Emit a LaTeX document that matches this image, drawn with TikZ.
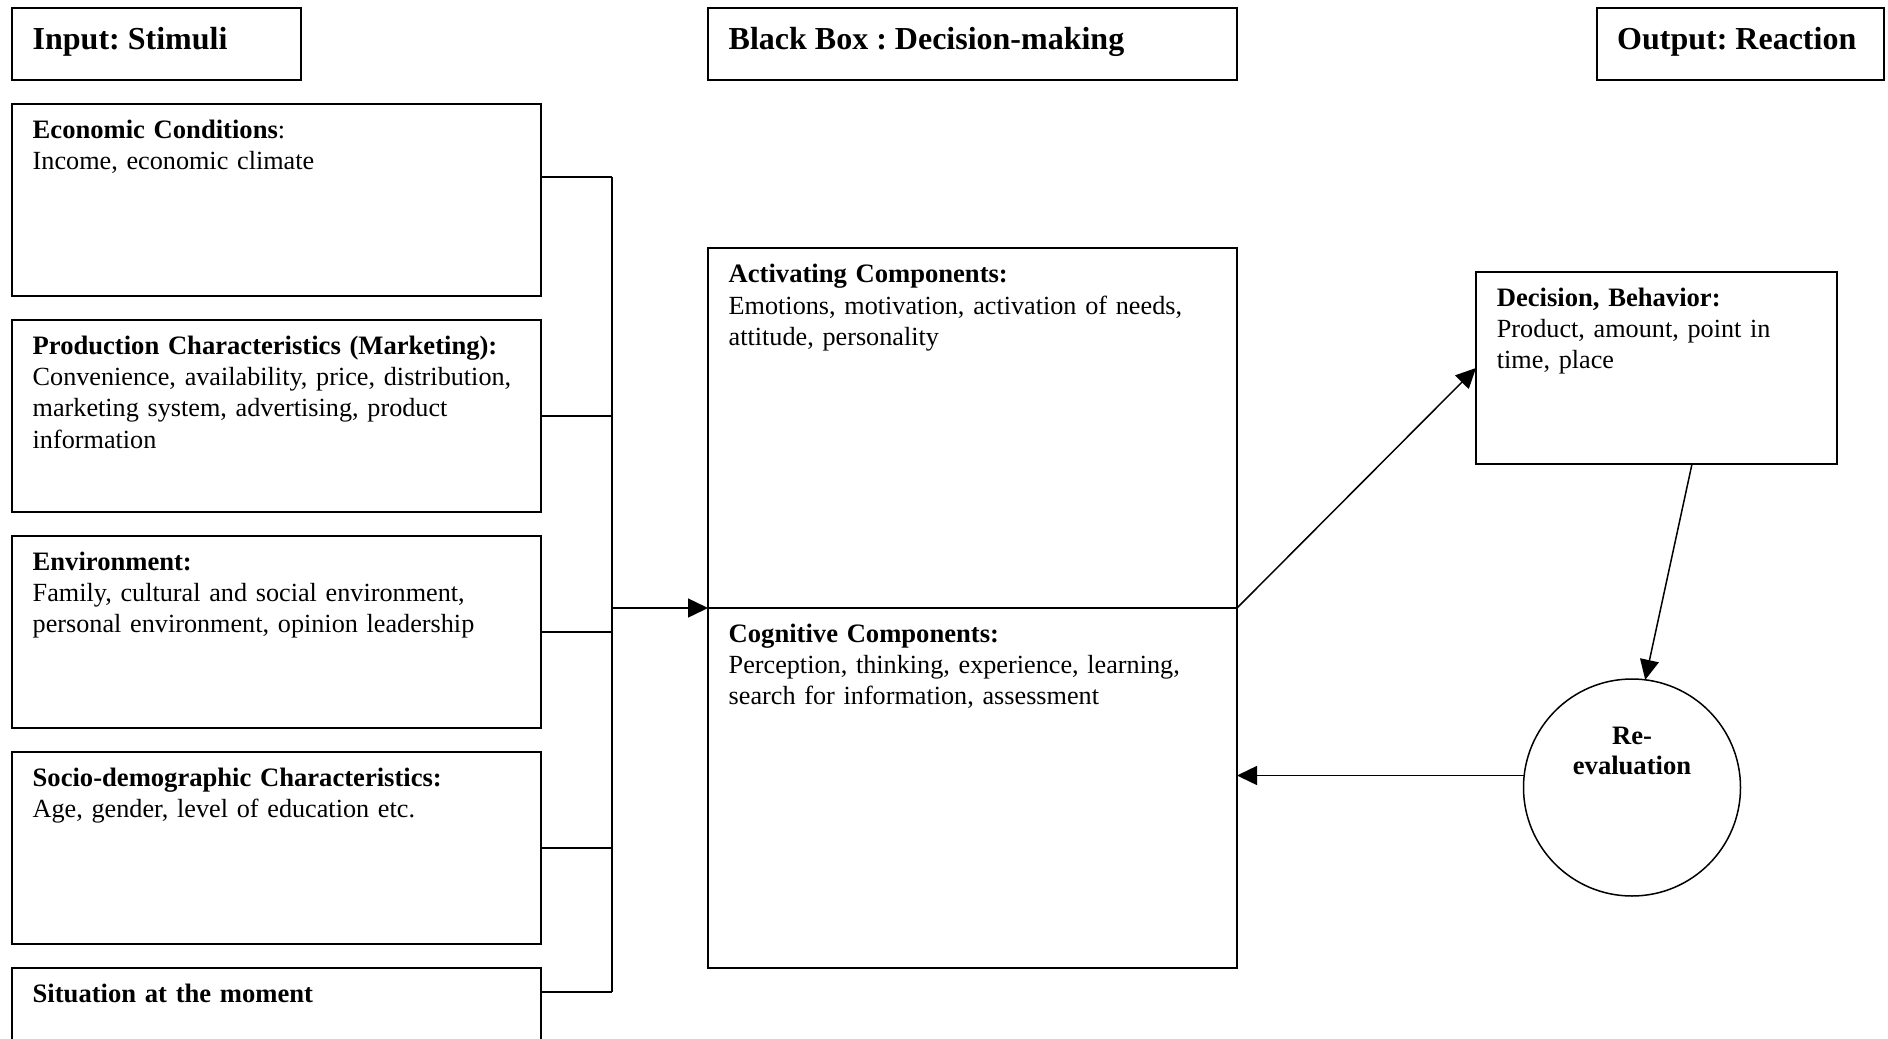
\documentclass[tikz,border=0pt]{standalone}
\usepackage{fontspec}
\setmainfont{Liberation Serif}
\usetikzlibrary{arrows.meta}
\newcommand\firstlinestrut{\rule{0pt}{24pt}}
\newcommand\boxtitle[1]{{\bfseries\fontsize{26.6}{31.3}\selectfont #1}}
\frenchspacing
\begin{document}
\begin{tikzpicture}[x=1pt,y=-1pt,
  box/.style={draw, line width=1.5pt, rectangle, inner sep=0pt, outer sep=0pt, anchor=north west},
  body/.style={anchor=north west, inner sep=0pt, text width=#1, align=left,
    font=\fontsize{26.2}{31.3}\selectfont},
  head/.style={anchor=base west, inner sep=0pt, font=\bfseries\fontsize{32}{36}\selectfont},
  wire/.style={line width=1.5pt},
  arr/.style={line width=1.5pt, -{Triangle[length=20pt,width=19pt]}},
]
\path[use as bounding box] (0,0) rectangle (1888,1039);
\clip (0,0) rectangle (1888,1039);

% headers
\node[box, minimum width=289pt, minimum height=72pt] (inp) at (12,8) {};
\node[head] (inpT) at (32.5,49.5) {Input: Stimuli};
\node[box, minimum width=529pt, minimum height=72pt] (bbh) at (708,8) {};
\node[head] (bbhT) at (728.5,49.5) {Black Box : Decision-making};
\node[box, minimum width=287pt, minimum height=72pt] (outh) at (1597,8) {};
\node[head] (outhT) at (1617,49.5) {Output: Reaction};

% left stimuli boxes
\node[box, minimum width=529pt, minimum height=192pt] (econ) at (12,104) {};
\node[body=505pt] (econT) at (32.5,114) {\firstlinestrut\boxtitle{Economic Conditions}:\\Income, economic climate};
\node[box, minimum width=529pt, minimum height=192pt] (prod) at (12,320) {};
\node[body=505pt] (prodT) at (32.5,330) {\firstlinestrut\boxtitle{Production Characteristics (Marketing):}\\Convenience, availability, price, distribution,\\marketing system, advertising, product\\information};
\node[box, minimum width=529pt, minimum height=192pt] (env) at (12,536) {};
\node[body=505pt] (envT) at (32.5,546) {\firstlinestrut\boxtitle{Environment:}\\Family, cultural and social environment,\\personal environment, opinion leadership};
\node[box, minimum width=529pt, minimum height=192pt] (socio) at (12,752) {};
\node[body=505pt] (socioT) at (32.5,762) {\firstlinestrut\boxtitle{Socio-demographic Characteristics:}\\Age, gender, level of education etc.};
\node[box, minimum width=529pt, minimum height=192pt] (sit) at (12,968) {};
\node[body=505pt] (sitT) at (32.5,978) {\firstlinestrut\boxtitle{Situation at the moment}};

% black box
\node[box, minimum width=529pt, minimum height=360pt] (act) at (708,248) {};
\node[body=505pt] (actT) at (728.5,258.5) {\firstlinestrut\boxtitle{Activating Components:}\\Emotions, motivation, activation of needs,\\attitude, personality};
\node[box, minimum width=529pt, minimum height=360pt] (cog) at (708,608) {};
\node[body=505pt] (cogT) at (728.5,618) {\firstlinestrut\boxtitle{Cognitive Components:}\\Perception, thinking, experience, learning,\\search for information, assessment};

% output side
\node[box, minimum width=361pt, minimum height=192pt] (dec) at (1476,272) {};
\node[body=335pt] (decT) at (1496.7,282) {\firstlinestrut\boxtitle{Decision, Behavior:}\\Product, amount, point in\\time, place};
\node[draw, line width=1.5pt, circle, minimum size=217pt, inner sep=0pt, outer sep=0pt] (reev) at (1632,787.5) {};
\node[anchor=north, inner sep=0pt, text width=200pt, align=center,
  font=\bfseries\fontsize{26.6}{30}\selectfont] (reevT) at (1632,720) {\firstlinestrut Re-\\evaluation};

% bus connectors
\coordinate (b1) at (612,177);
\coordinate (b2) at (612,416);
\coordinate (b3) at (612,632);
\coordinate (b4) at (612,848);
\coordinate (b5) at (612,992);
\coordinate (bm) at (612,608);
\draw[wire] (b1 -| econ.east) -- (b1);
\draw[wire] (b2 -| prod.east) -- (b2);
\draw[wire] (b3 -| env.east) -- (b3);
\draw[wire] (b4 -| socio.east) -- (b4);
\draw[wire] (b5 -| sit.east) -- (b5);
\draw[wire] (b1) -- (b5);
\draw[arr] (bm) -- (act.south west);

% output arrows
\draw[arr] (act.south east) -- (dec.west);
\draw[arr] ([xshift=35.5pt]dec.south) -- (reev.83);
\coordinate (rp) at (1400,775.5);
\draw[arr] (reev.west |- rp) -- (cog.east |- rp);
\end{tikzpicture}
\end{document}
